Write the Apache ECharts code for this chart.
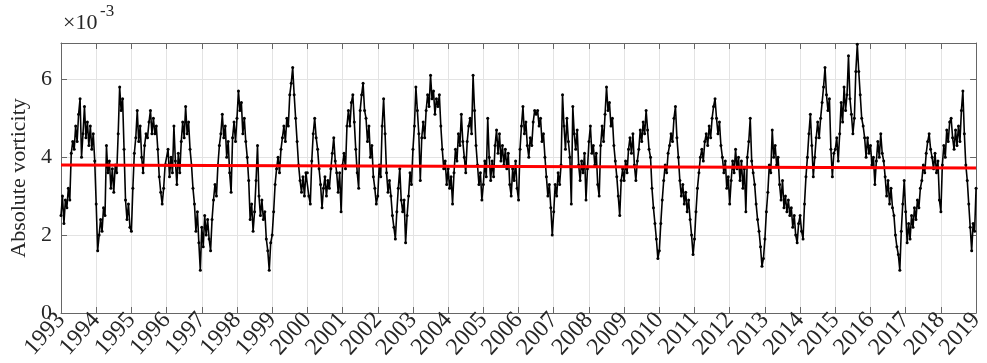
<!DOCTYPE html>
<html>
<head>
<meta charset="utf-8">
<script src="https://cdn.jsdelivr.net/npm/echarts@6/dist/echarts.min.js"></script>
<style>
html,body{margin:0;padding:0;background:#fff;}
#c{width:987px;height:363px;}
</style>
</head>
<body>
<div id="c"></div>
<script>
// Year tick labels
const yearTicks = [1993,1994,1995,1996,1997,1998,1999,2000,2001,2002,2003,2004,2005,2006,2007,2008,2009,2010,2011,2012,2013,2014,2015,2016,2017,2018,2019];
const yTicks = [0,2,4,6];

// Absolute vorticity (x1e-3), semi-monthly readings for each year
const v1993 = [2.5,3.0,2.3,2.9,2.7,3.2,2.9,4.1,4.4,4.2,4.8,4.4,5.1,5.5,4.0,4.6,5.3,4.5,4.9,4.3,4.8,4.2,4.6,3.9];
const v1994 = [2.8,1.6,2.0,2.4,2.1,2.7,2.5,4.3,3.6,3.9,3.2,3.7,3.1,3.8,3.6,4.6,5.8,5.2,5.5,4.2,2.9,2.4,2.8,2.2];
const v1995 = [2.1,3.2,4.1,4.5,5.2,4.4,4.8,4.0,3.6,4.3,4.6,4.5,4.9,5.2,4.6,5.0,4.6,4.8,4.2,3.5,3.1,2.8,3.2,3.8];
const v1996 = [3.8,4.2,3.5,4.0,3.6,4.8,3.9,3.3,4.1,3.6,4.4,4.9,4.5,5.3,4.6,4.9,4.2,3.8,3.2,2.8,2.1,2.6,1.8,1.1];
const v1997 = [2.2,1.7,2.5,2.0,2.4,1.9,1.6,2.4,2.9,3.3,3.0,3.8,4.3,4.6,5.1,4.5,4.8,4.0,4.4,3.6,3.1,4.5,4.9,4.4];
const v1998 = [5.0,5.7,5.2,5.4,4.6,5.0,4.4,4.0,3.4,2.4,2.8,2.1,2.6,3.4,4.3,3.0,2.5,2.9,2.4,2.6,1.9,1.6,1.1,1.8];
const v1999 = [2.0,2.6,3.3,3.7,4.0,3.6,4.2,4.5,4.8,4.4,5.0,4.8,5.6,5.9,6.3,5.6,5.0,4.4,3.8,3.4,3.1,3.5,3.0,3.6];
const v2000 = [3.6,3.0,2.8,3.9,4.6,5.0,4.5,4.2,3.7,3.3,2.7,3.2,3.5,3.0,3.4,3.2,3.7,4.1,4.5,3.9,3.6,3.1,3.6,2.6];
const v2001 = [3.8,4.1,3.7,4.8,5.2,4.8,5.4,5.6,4.9,4.2,3.6,3.2,5.2,5.6,5.9,5.2,5.0,4.4,4.8,4.0,4.3,3.5,3.2,2.8];
const v2002 = [3.0,3.8,3.5,4.8,5.5,4.6,3.6,3.1,3.4,3.0,2.5,2.2,1.9,2.6,3.2,3.7,2.9,2.6,2.9,1.8,2.5,3.0,3.6,3.3];
const v2003 = [4.2,4.8,5.8,5.2,4.6,3.4,4.5,4.9,4.5,5.2,5.6,5.3,6.1,5.5,5.7,5.1,5.5,5.3,5.6,4.8,4.2,3.7,3.9,3.3];
const v2004 = [3.7,3.2,3.5,2.8,3.6,4.2,3.9,4.6,4.3,5.1,4.4,4.0,3.6,4.4,4.8,5.0,4.6,6.1,5.2,4.3,3.8,3.3,3.6,2.9];
const v2005 = [3.3,3.9,3.5,5.0,4.0,3.4,3.9,3.5,4.3,4.7,4.1,4.6,3.9,4.3,3.8,4.2,3.7,4.1,3.3,3.0,3.7,3.4,3.9,3.2];
const v2006 = [2.9,4.2,4.8,5.3,4.6,4.9,4.3,4.0,4.5,4.3,4.9,5.2,5.1,5.2,4.8,5.0,4.4,4.6,4.0,3.5,3.0,3.3,2.7,2.0];
const v2007 = [2.6,3.3,3.0,3.6,3.3,3.8,5.6,4.8,4.2,5.0,4.4,4.0,2.8,5.3,4.6,4.2,4.7,3.8,3.4,3.9,3.6,4.1,2.9,3.7];
const v2008 = [4.4,4.8,4.1,4.3,3.8,4.1,3.3,3.0,4.3,4.8,4.4,5.1,5.8,5.2,5.4,4.8,5.0,4.3,3.9,3.5,3.0,2.5,3.4,3.7];
const v2009 = [3.4,3.9,3.6,4.2,4.5,4.1,4.6,3.8,3.4,3.9,4.2,4.7,4.4,4.9,4.6,5.2,4.7,4.2,4.0,3.2,2.7,2.3,1.9,1.4];
const v2010 = [1.6,2.3,2.9,3.4,3.8,3.6,4.1,4.3,4.6,4.4,5.0,5.3,4.5,4.0,3.4,3.0,3.3,2.8,3.1,2.6,2.9,2.4,2.0,1.5];
const v2011 = [1.9,2.6,3.2,3.6,4.0,4.2,3.9,4.4,4.6,4.3,4.8,4.5,5.0,5.3,5.5,5.0,4.6,4.9,4.3,4.0,3.6,3.9,3.2,3.5];
const v2012 = [2.8,3.4,3.9,3.6,4.2,3.7,4.0,3.4,3.9,3.2,3.7,2.6,4.0,4.4,5.0,3.9,3.6,3.3,2.8,2.4,2.1,1.7,1.2,1.4];
const v2013 = [1.9,2.6,3.1,3.8,3.6,4.7,4.0,4.3,3.8,4.0,3.3,2.9,3.4,2.7,3.0,2.6,2.9,2.5,2.7,2.2,2.5,2.0,1.8,2.3];
const v2014 = [2.5,2.1,1.9,2.8,3.5,4.0,4.6,5.1,4.3,3.5,4.0,4.5,4.9,4.5,5.0,5.4,5.8,6.3,5.6,5.2,5.5,4.2,3.5,4.1];
const v2015 = [4.2,4.5,3.9,4.6,5.4,4.9,5.8,5.2,5.6,6.6,5.5,5.1,4.6,5.0,6.2,6.9,6.2,5.6,5.0,4.8,4.5,4.0,4.5,4.1];
const v2016 = [4.3,3.8,4.0,3.3,3.9,4.4,4.0,4.6,4.1,3.9,3.5,3.0,3.4,2.8,3.2,2.7,2.5,2.0,1.7,1.5,1.1,2.1,2.8,3.4];
const v2017 = [2.6,1.8,2.3,1.9,2.5,2.2,2.7,2.4,2.9,2.7,3.2,3.4,3.8,3.6,4.1,4.4,4.6,4.2,4.0,3.7,4.1,3.6,3.9,2.9];
const v2018 = [2.6,3.8,4.3,4.0,4.7,4.4,4.9,5.0,4.5,4.2,4.7,4.3,4.8,4.4,5.2,5.7,4.6,3.8,3.4,2.8,2.2,1.6,2.3,2.1];
const v2019 = [3.2];

// Linear trend line end values
const trendYears = [1993, 2019];
const trendValues = [3.80, 3.72];

const yearlyValues = [v1993,v1994,v1995,v1996,v1997,v1998,v1999,v2000,v2001,v2002,v2003,v2004,v2005,v2006,v2007,v2008,v2009,v2010,v2011,v2012,v2013,v2014,v2015,v2016,v2017,v2018,v2019];

const points = [];
yearlyValues.forEach(function (arr, k) {
  const yr = yearTicks[k];
  arr.forEach(function (v, i) {
    points.push([yr + i / 24, v]);
  });
});
const trend = trendYears.map(function (y, i) { return [y, trendValues[i]]; });

const FONT = 'Liberation Serif';
const AX = '#666666';
const TXT = '#262626';

const chart = echarts.init(document.getElementById('c'), null, {renderer: 'canvas'});
chart.setOption({
  animation: false,
  backgroundColor: '#ffffff',
  grid: {left: 61, right: 4, top: 43, bottom: 50, containLabel: false},
  xAxis: [{
    type: 'value', min: yearTicks[0], max: yearTicks[yearTicks.length - 1], interval: 1,
    axisLine: {show: true, onZero: false, lineStyle: {color: AX, width: 1}},
    axisTick: {show: true, inside: true, length: 6, lineStyle: {color: AX}},
    axisLabel: {show: true, rotate: 48, margin: 3, color: TXT, fontFamily: FONT, fontSize: 24,
      formatter: function (v) { return String(Math.round(v)); }},
    splitLine: {show: true, lineStyle: {color: '#e3e3e3', width: 1}}
  }, {
    type: 'value', position: 'top', min: yearTicks[0], max: yearTicks[yearTicks.length - 1], interval: 1,
    axisLine: {show: true, onZero: false, lineStyle: {color: AX, width: 1}},
    axisTick: {show: true, inside: true, length: 6, lineStyle: {color: AX}},
    axisLabel: {show: false}, splitLine: {show: false}
  }],
  yAxis: [{
    type: 'value', min: 0, max: 6.93, interval: 2,
    name: 'Absolute vorticity', nameLocation: 'middle', nameGap: 28, nameRotate: 90,
    nameTextStyle: {fontFamily: FONT, fontSize: 22, color: TXT},
    axisLine: {show: true, onZero: false, lineStyle: {color: AX, width: 1}},
    axisTick: {show: true, inside: true, length: 6, lineStyle: {color: AX}},
    axisLabel: {show: true, margin: 9, color: TXT, fontFamily: FONT, fontSize: 22, showMaxLabel: false,
      formatter: function (v) { return yTicks.indexOf(v) >= 0 ? String(v) : ''; }},
    splitLine: {show: true, lineStyle: {color: '#e3e3e3', width: 1}}
  }, {
    type: 'value', position: 'right', min: 0, max: 6.93, interval: 2,
    axisLine: {show: true, onZero: false, lineStyle: {color: AX, width: 1}},
    axisTick: {show: true, inside: true, length: 6, lineStyle: {color: AX}},
    axisLabel: {show: false}, splitLine: {show: false}
  }],
  graphic: [
    {type: 'text', left: 63, top: 12, style: {text: '\u00d710', fontFamily: FONT, fontSize: 22, fill: TXT}},
    {type: 'text', left: 100, top: 3, style: {text: '-3', fontFamily: FONT, fontSize: 17, fill: TXT}}
  ],
  series: [{
    type: 'line', data: points, xAxisIndex: 0, yAxisIndex: 0,
    showSymbol: true, symbol: 'circle', symbolSize: 3,
    itemStyle: {color: '#000'},
    lineStyle: {color: '#000', width: 1.6},
    z: 2
  }, {
    type: 'line', data: trend, xAxisIndex: 0, yAxisIndex: 0,
    showSymbol: false, lineStyle: {color: '#ff0000', width: 3}, z: 3
  }]
});
</script>
</body>
</html>
